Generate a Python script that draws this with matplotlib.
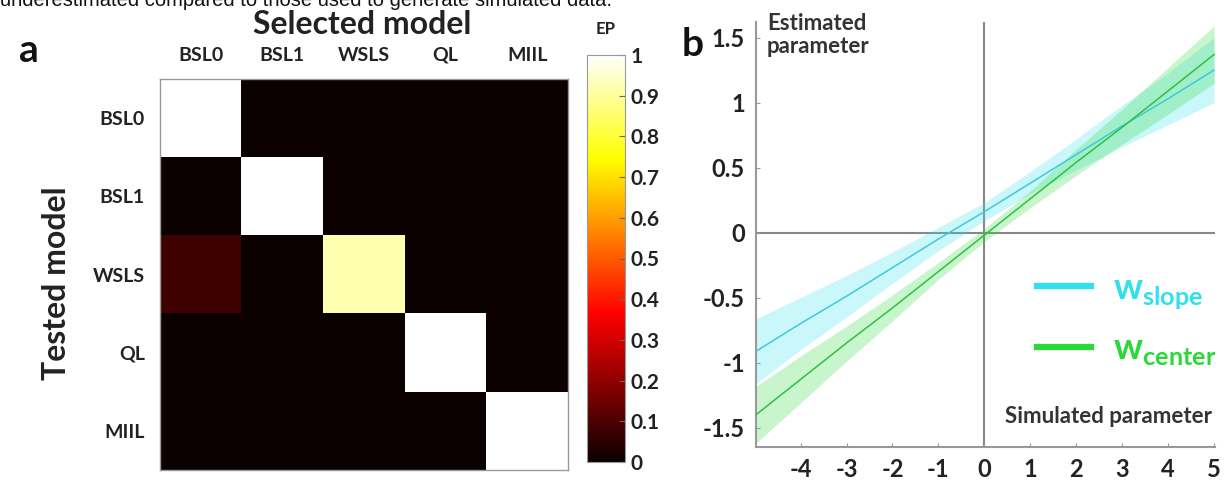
import numpy as np
import matplotlib
matplotlib.use('Agg')
import matplotlib.pyplot as plt
from matplotlib.lines import Line2D

plt.rcParams['font.family'] = ['Lato', 'DejaVu Sans']
plt.rcParams['font.weight'] = 'bold'
plt.rcParams['axes.unicode_minus'] = False
plt.rcParams['mathtext.fontset'] = 'custom'
plt.rcParams['mathtext.bf'] = 'Lato:bold'
plt.rcParams['mathtext.rm'] = 'Lato:bold'

# panel a: exceedance probabilities (rows = tested model, cols = selected model)
models = ['BSL0', 'BSL1', 'WSLS', 'QL', 'MIIL']
ep = [[1.00, 0.00, 0.00, 0.00, 0.00],
      [0.00, 1.00, 0.00, 0.00, 0.00],
      [0.08, 0.00, 0.92, 0.00, 0.00],
      [0.00, 0.00, 0.00, 1.00, 0.00],
      [0.00, 0.00, 0.00, 0.00, 1.00]]
cbar_ticks = [0, 0.1, 0.2, 0.3, 0.4, 0.5, 0.6, 0.7, 0.8, 0.9, 1]
cbar_labels = ['0', '0.1', '0.2', '0.3', '0.4', '0.5', '0.6', '0.7', '0.8', '0.9', '1']

# panel b: estimated vs simulated parameter, fit line + band
sim_x = [-5, -4, -3, -2, -1, 0, 1, 2, 3, 4, 5]
slope_mean = [-0.92, -0.70, -0.49, -0.27, -0.05, 0.16, 0.38, 0.60, 0.82, 1.03, 1.25]
slope_lo = [-1.17, -0.90, -0.65, -0.39, -0.14, 0.09, 0.30, 0.48, 0.66, 0.83, 1.00]
slope_hi = [-0.67, -0.50, -0.33, -0.15, 0.04, 0.23, 0.47, 0.72, 0.98, 1.23, 1.50]
center_mean = [-1.41, -1.13, -0.85, -0.58, -0.30, -0.02, 0.26, 0.54, 0.81, 1.09, 1.37]
center_lo = [-1.63, -1.31, -0.99, -0.68, -0.36, -0.07, 0.19, 0.44, 0.68, 0.91, 1.15]
center_hi = [-1.19, -0.95, -0.72, -0.48, -0.23, 0.03, 0.32, 0.64, 0.95, 1.27, 1.59]
xticks_b = [-4, -3, -2, -1, 0, 1, 2, 3, 4, 5]
yticks_b = [-1.5, -1, -0.5, 0, 0.5, 1, 1.5]
yticklabels_b = ['-1.5', '-1', '-0.5', '0', '0.5', '1', '1.5']

W, H = 1226, 484
fig = plt.figure(figsize=(W / 100, H / 100), dpi=100)


def box(x0, y0, x1, y1):
    # pixel box -> figure fraction [left, bottom, width, height]
    return [x0 / W, 1 - y1 / H, (x1 - x0) / W, (y1 - y0) / H]


# cut-off caption line at the very top (only its lower part shows)
fig.text(0.0, 1 - 6 / H, 'underestimated compared to those used to generate simulated data.',
         fontsize=14.5, family='Liberation Sans', weight='normal', va='baseline', color='#111')

# ---- panel a ----
ax1 = fig.add_axes(box(160, 79, 568, 470))
im = ax1.imshow(np.array(ep), cmap='hot', vmin=0, vmax=1, aspect='auto', interpolation='nearest')
ax1.xaxis.tick_top()
ax1.set_xticks(range(len(models)))
ax1.set_xticklabels(models, fontsize=14, weight='bold', color='#222')
ax1.set_yticks(range(len(models)))
ax1.set_yticklabels(models, fontsize=14, weight='bold', color='#222')
ax1.tick_params(length=0, pad=11)
for s in ax1.spines.values():
    s.set_color('#999')
    s.set_linewidth(1)

fig.text(362 / W, 1 - 25 / H, 'Selected model', fontsize=23, weight='bold', ha='center', va='center', color='#222')
fig.text(56 / W, 1 - 283 / H, 'Tested model', fontsize=23, weight='bold', rotation=90,
         ha='center', va='center', color='#222')
fig.text(29 / W, 1 - 50 / H, 'a', fontsize=28, weight='bold', ha='center', va='center', color='#111')

cax = fig.add_axes(box(587, 55, 625, 462))
cb = fig.colorbar(im, cax=cax, ticks=cbar_ticks)
cb.ax.set_yticklabels(cbar_labels, fontsize=15, weight='bold', color='#222')
cb.ax.tick_params(direction='in', length=4, color='#666', pad=4)
cb.outline.set_edgecolor('#999')
fig.text(606 / W, 1 - 29 / H, 'EP', fontsize=12, weight='bold', ha='center', va='center', color='#222')

# ---- panel b ----
ax2 = fig.add_axes(box(756, 22, 1215, 447))
c_slope = '#2fe0ee'
c_center = '#2ad83a'
ax2.axhline(0, color='#888', lw=1.5, zorder=1)
ax2.axvline(0, color='#888', lw=1.5, zorder=1)
ax2.fill_between(sim_x, slope_lo, slope_hi, color=c_slope, alpha=0.25, lw=0, zorder=2)
ax2.fill_between(sim_x, center_lo, center_hi, color=c_center, alpha=0.25, lw=0, zorder=2)
ax2.plot(sim_x, slope_mean, color='#40c8dc', lw=1.1, zorder=3)
ax2.plot(sim_x, center_mean, color='#30c040', lw=1.1, zorder=3)
ax2.set_xlim(-4.97, 5.02)
ax2.set_ylim(-1.65, 1.62)
ax2.set_xticks(xticks_b)
ax2.set_yticks(yticks_b)
ax2.set_yticklabels(yticklabels_b)
ax2.tick_params(labelsize=17, direction='in', length=3, color='#999', pad=8, labelcolor='#222')
for lab in ax2.get_xticklabels() + ax2.get_yticklabels():
    lab.set_fontweight('bold')
ax2.spines['top'].set_visible(False)
ax2.spines['right'].set_visible(False)
for s in ['left', 'bottom']:
    ax2.spines[s].set_color('#999')
    ax2.spines[s].set_linewidth(1.5)

ax2.text(0.024, 1.02, 'Estimated\nparameter', transform=ax2.transAxes, fontsize=16, weight='bold',
         ha='left', va='top', color='#333', linespacing=1.1, clip_on=False)
ax2.text(0.9935, 0.056, 'Simulated parameter', transform=ax2.transAxes, fontsize=16, weight='bold',
         ha='right', va='baseline', color='#333')

handles = [Line2D([], [], color=c_slope, lw=4.5), Line2D([], [], color=c_center, lw=4.5)]
leg = ax2.legend(handles, [r'$\mathbf{w}_{\mathbf{slope}}$', r'$\mathbf{w}_{\mathbf{center}}$'],
                 loc='center right', bbox_to_anchor=(1.035, 0.30), frameon=False, fontsize=26,
                 handlelength=1.5, handletextpad=0.6, labelspacing=0.6, borderaxespad=0)
for t, c in zip(leg.get_texts(), [c_slope, c_center]):
    t.set_color(c)

fig.text(693 / W, 1 - 44 / H, 'b', fontsize=28, weight='bold', ha='center', va='center', color='#111')

fig.savefig('out.png', dpi=100)
